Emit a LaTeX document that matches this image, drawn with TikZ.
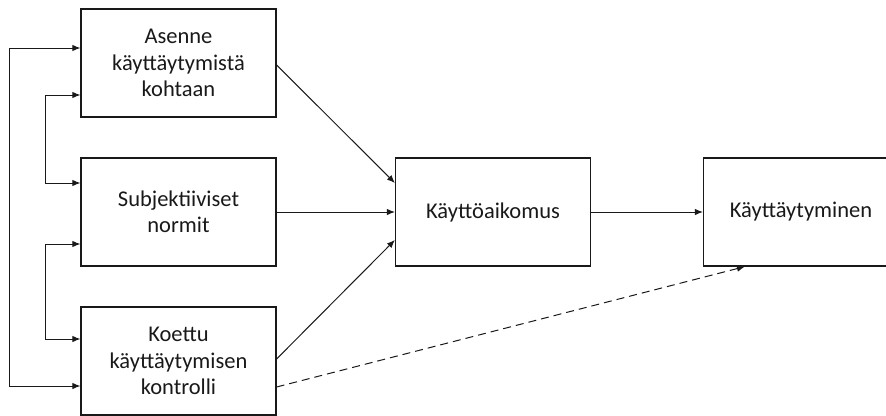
\documentclass[tikz,border=0pt]{standalone}
\usepackage{fontspec}
\setmainfont{Carlito}
\usetikzlibrary{arrows.meta}
\begin{document}
\begin{tikzpicture}[x=1pt,y=-1pt,
  box/.style={draw=black!90, line width=1.2pt, minimum width=195pt, minimum height=108pt,
    inner sep=0pt, align=center, font=\fontsize{22.5}{26.5}\selectfont, text=black!90},
  arr/.style={line width=1pt, draw=black!90, -{Latex[length=8pt,width=6.5pt]}},
  biarr/.style={line width=1pt, draw=black!90, {Latex[length=8pt,width=6.5pt]}-{Latex[length=8pt,width=6.5pt]}},
  darr/.style={arr, dash pattern=on 8pt off 5pt}]
\useasboundingbox (0,0) rectangle (886,415);
\clip (0,0) rectangle (886,415);
% construct boxes
\node[box] (A) at (178.5,63) {Asenne\\käyttäytymistä\\kohtaan};
\node[box] (S) at (178.5,212) {Subjektiiviset\\normit};
\node[box] (K) at (178.5,361) {Koettu\\käyttäytymisen\\kontrolli};
\node[box] (I) at (493,212) {Käyttöaikomus};
\node[box] (B) at (801,212) {Käyttäytyminen};
% correlation rails on the left
\draw[biarr] ([yshift=-25pt]K.west) -| (9,48) -- ([yshift=15pt]A.west);
\draw[biarr] ([yshift=29pt]S.west) -| (45,95) -- ([yshift=-32pt]A.west);
\draw[biarr] ([yshift=-32pt]S.west) -| (45,339) -- ([yshift=22pt]K.west);
% paths to intention and behaviour
\draw[arr] ([yshift=-2pt]A.east) -- ([yshift=29pt]I.west);
\draw[arr] (S.east) -- (I.west);
\draw[arr] ([yshift=2pt]K.east) -- ([yshift=-28pt]I.west);
\draw[arr] (I.east) -- (B.west);
\draw[darr] ([yshift=-26pt]K.east) -- ([xshift=42pt]B.south west);
\end{tikzpicture}
\end{document}
